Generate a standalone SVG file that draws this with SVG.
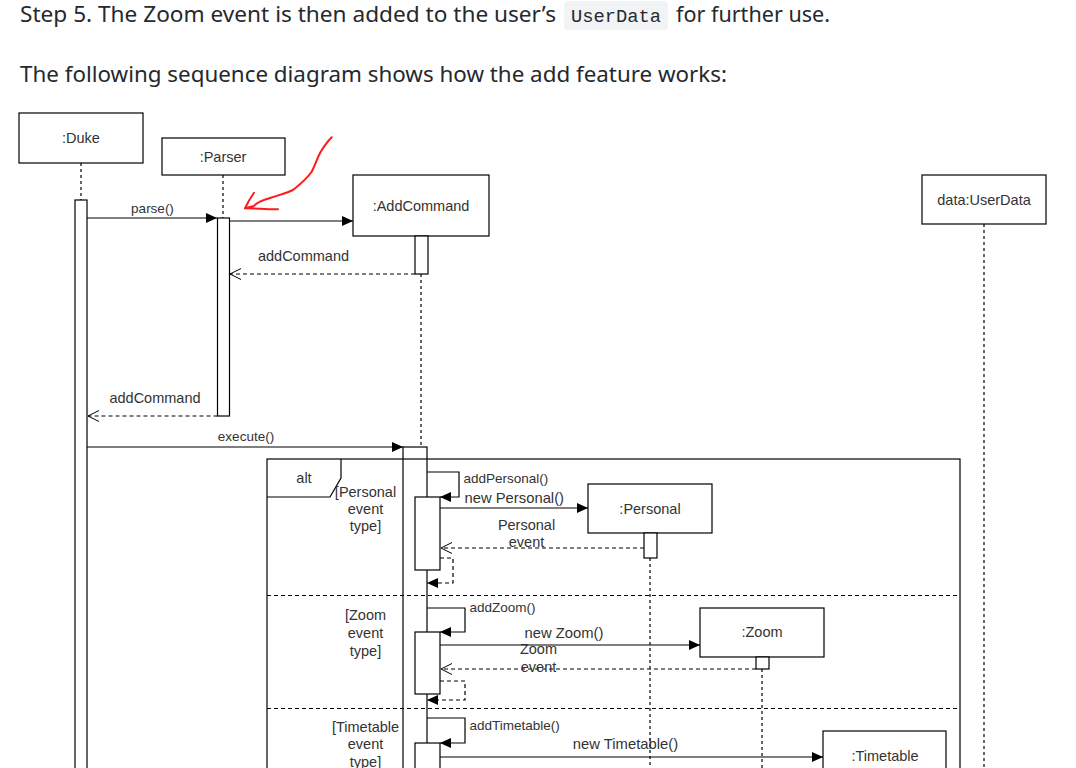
<svg xmlns="http://www.w3.org/2000/svg" width="1076" height="768" viewBox="0 0 1076 768">
<defs>
<marker id="fill" markerUnits="userSpaceOnUse" markerWidth="11" markerHeight="10" refX="11" refY="5" orient="auto">
<path d="M0,0 L11,5 L0,10 z" fill="#000"/>
</marker>
<marker id="open" markerUnits="userSpaceOnUse" markerWidth="13" markerHeight="13" refX="11.5" refY="6" orient="auto">
<path d="M0.5,0.5 L11.5,6 L0.5,11.5" fill="none" stroke="#000" stroke-width="1"/>
</marker>
<style>
.prose{font-family:"Noto Sans","Open Sans","Liberation Sans",sans-serif;font-size:22px;fill:#24292e}
.code{font-family:"Liberation Mono","DejaVu Sans Mono",monospace;font-size:19px;fill:#24292e}
.box{fill:#fff;stroke:#000;stroke-width:1.2}
.act{fill:#fff;stroke:#000;stroke-width:1.2}
.life{fill:none;stroke:#000;stroke-width:1.2;stroke-dasharray:3,3}
.name{font-family:"Liberation Sans",Arial,sans-serif;font-size:14.5px;fill:#333;text-anchor:middle}
.lbl{font-family:"Liberation Sans",Arial,sans-serif;font-size:13.5px;fill:#333}
.lbln{font-family:"Liberation Sans",Arial,sans-serif;font-size:14.8px;fill:#333}
.lblc{font-family:"Liberation Sans",Arial,sans-serif;font-size:14.5px;fill:#333;text-anchor:middle}
.msg{fill:none;stroke:#000;stroke-width:1.2;marker-end:url(#fill)}
.ret{fill:none;stroke:#000;stroke-width:1.2;stroke-dasharray:4,3;marker-end:url(#open)}
.sret{fill:none;stroke:#000;stroke-width:1.2;stroke-dasharray:4,3;marker-end:url(#fill)}
.frame{fill:none;stroke:#000;stroke-width:1.2}
.div{fill:none;stroke:#000;stroke-width:1.2;stroke-dasharray:4,3}
</style>
</defs>
<rect width="1076" height="768" fill="#fff"/>

<g id="prose">
<text class="prose" x="20" y="22" textLength="536" lengthAdjust="spacingAndGlyphs">Step 5. The Zoom event is then added to the user’s</text>
<rect x="564" y="1" width="104" height="29" rx="4" fill="#f2f3f4"/>
<text class="code" x="571" y="22" textLength="90" lengthAdjust="spacingAndGlyphs">UserData</text>
<text class="prose" x="676" y="22" textLength="154" lengthAdjust="spacingAndGlyphs">for further use.</text>
<text class="prose" x="20" y="82" textLength="707" lengthAdjust="spacingAndGlyphs">The following sequence diagram shows how the add feature works:</text>
</g>

<g id="duke">
<rect class="box" x="19" y="113" width="124" height="50"/>
<text class="name" x="81" y="143">:Duke</text>
<line class="life" x1="81" y1="163" x2="81" y2="200"/>
<rect class="act" x="75" y="200" width="12" height="580"/>
</g>

<g id="parser">
<rect class="box" x="162" y="138" width="123" height="37"/>
<text class="name" x="223" y="162">:Parser</text>
<line class="life" x1="223" y1="175" x2="223" y2="218"/>
<rect class="act" x="217.5" y="218" width="12" height="198"/>
</g>

<g id="addcommand">
<rect class="box" x="353" y="175" width="136" height="61"/>
<text class="name" x="421" y="211">:AddCommand</text>
<rect class="act" x="415" y="236" width="13" height="38"/>
<line class="life" x1="421" y1="274" x2="421" y2="447"/>
<rect class="act" x="403" y="447" width="24" height="333"/>
</g>

<g id="userdata">
<rect class="box" x="922" y="175" width="124" height="49"/>
<text class="name" x="984" y="205">data:UserData</text>
<line class="life" x1="984" y1="224" x2="984" y2="780"/>
</g>

<g id="personal">
<rect class="box" x="588" y="484" width="124" height="49"/>
<text class="name" x="650" y="514">:Personal</text>
<line class="life" x1="650" y1="558" x2="650" y2="780"/>
<rect class="act" x="644" y="533" width="13" height="25"/>
</g>

<g id="zoom">
<rect class="box" x="700" y="608" width="124" height="49"/>
<text class="name" x="762" y="637">:Zoom</text>
<line class="life" x1="762" y1="669" x2="762" y2="780"/>
<rect class="act" x="756" y="657" width="13" height="12"/>
</g>

<g id="timetable">
<rect class="box" x="823" y="731" width="123" height="60"/>
<text class="name" x="885" y="761">:Timetable</text>
</g>

<g id="connectors">
<path class="msg" d="M87,218 L217,218"/>
<text class="lbl" x="152.5" y="212.5" text-anchor="middle">parse()</text>
<path class="msg" d="M229.5,221 L353,221"/>
<path class="ret" d="M415,274 L230,274"/>
<text class="lblc" x="303.5" y="261">addCommand</text>
<path class="ret" d="M217.5,416 L88,416"/>
<text class="lblc" x="155" y="403">addCommand</text>
<path class="msg" d="M87,447 L403,447"/>
<text class="lbl" x="246" y="440.5" text-anchor="middle">execute()</text>

<path class="msg" d="M427,472 L459,472 L459,497 L440,497"/>
<text class="lbl" x="463.5" y="482.5">addPersonal()</text>
<path class="msg" d="M440,508 L588,508"/>
<text class="lbln" x="464.5" y="502.5">new Personal()</text>
<path class="ret" d="M644,548 L441,548"/>
<text class="lblc" x="526.5" y="530">Personal</text>
<text class="lblc" x="526.5" y="546.5">event</text>
<path class="sret" d="M440,558 L453,558 L453,583 L427,583"/>

<path class="msg" d="M427,608 L465,608 L465,632 L440,632"/>
<text class="lbl" x="469.5" y="612">addZoom()</text>
<path class="msg" d="M440,645 L700,645"/>
<text class="lbln" x="564" y="637.5" text-anchor="middle">new Zoom()</text>
<path class="ret" d="M756,669 L441,669"/>
<text class="lblc" x="538.5" y="654">Zoom</text>
<text class="lblc" x="538.5" y="671.5">event</text>
<path class="sret" d="M440,681 L465,681 L465,700 L427,700"/>

<path class="msg" d="M427,718 L465,718 L465,743 L440,743"/>
<text class="lbl" x="469.5" y="730">addTimetable()</text>
<path class="msg" d="M440,757 L823,757"/>
<text class="lbln" x="625.5" y="749" text-anchor="middle">new Timetable()</text>
</g>

<g id="nested-activations">
<rect class="act" x="415" y="497" width="25" height="73"/>
<rect class="act" x="415" y="632" width="25" height="62"/>
<rect class="act" x="415" y="743" width="25" height="40"/>
</g>

<g id="alt-frame">
<rect class="frame" x="267" y="459" width="693" height="330"/>
<path class="frame" d="M341,459 L341,478 L330,497 L267,497"/>
<text class="lblc" x="304" y="483">alt</text>
<line class="div" x1="267" y1="595.5" x2="960" y2="595.5"/>
<line class="div" x1="267" y1="708.5" x2="960" y2="708.5"/>
<text class="lblc"><tspan x="365.5" y="497">[Personal</tspan><tspan x="365.5" y="514">event</tspan><tspan x="365.5" y="531">type]</tspan></text>
<text class="lblc"><tspan x="365.5" y="620">[Zoom</tspan><tspan x="365.5" y="637.5">event</tspan><tspan x="365.5" y="655.5">type]</tspan></text>
<text class="lblc"><tspan x="365.5" y="731.5">[Timetable</tspan><tspan x="365.5" y="749">event</tspan><tspan x="365.5" y="766.5">type]</tspan></text>
</g>

<g id="annotation">
<path d="M331.7,137.3 C328,141 323,148 320,153 C317,159 315,165 311.7,171.7 C308,177 303,182 293,190 C287,193 282,194 270,198 C264,200 258,201 254,206 L245,208.3 M254,192.7 C251,197 248,202 245,208.3 C256,208.5 267,209 278,209.3" fill="none" stroke="#ff1a1a" stroke-width="2" stroke-linecap="round" stroke-linejoin="round"/>
</g>
</svg>
